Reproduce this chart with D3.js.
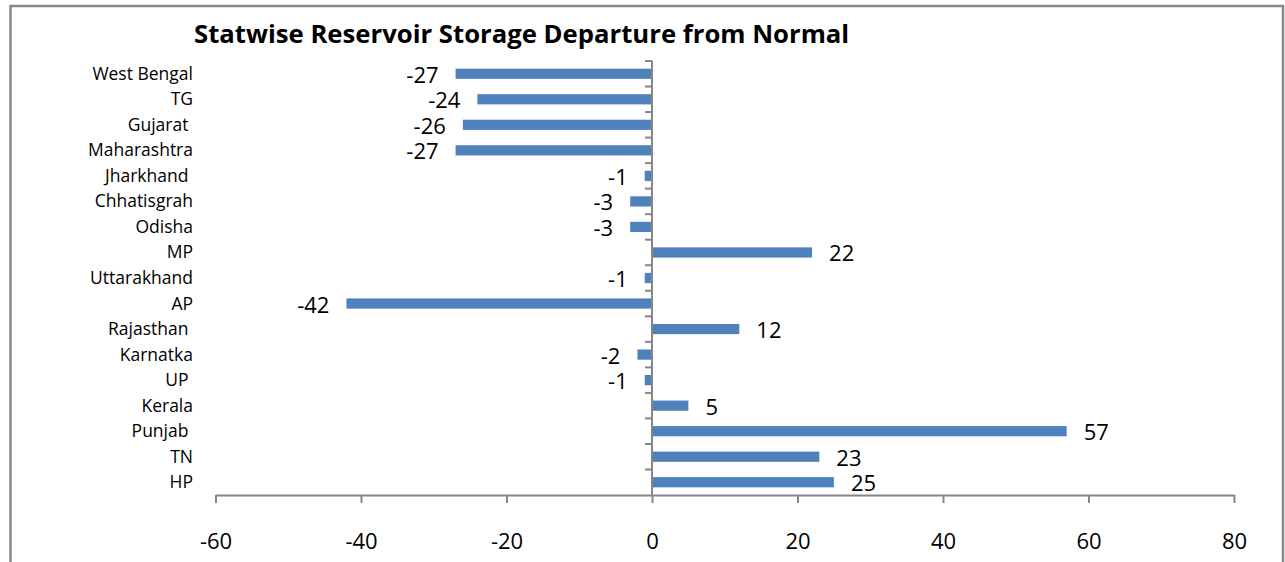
<!DOCTYPE html>
<html>
<head>
<meta charset="utf-8">
<script src="https://cdn.jsdelivr.net/npm/d3@7"></script>
<style>
  body { margin: 0; background: #fff; }
  text { font-family: "Open Sans", sans-serif; fill: #000; }
</style>
</head>
<body>
<div id="chart"></div>
<script>
// chart data
var states = ["West Bengal", "TG", "Gujarat ", "Maharashtra", "Jharkhand ", "Chhatisgrah", "Odisha",
  "MP", "Uttarakhand", "AP", "Rajasthan ", "Karnatka", "UP ", "Kerala", "Punjab ", "TN", "HP"];
var departure = [-27, -24, -26, -27, -1, -3, -3, 22, -1, -42, 12, -2, -1, 5, 57, 23, 25];
var xTicks = [-60, -40, -20, 0, 20, 40, 60, 80];

var title = "Statwise Reservoir Storage Departure from Normal";

var width = 1285, height = 562;

var svg = d3.select("#chart")
  .append("svg")
  .attr("width", width)
  .attr("height", height);

// outer frame (bottom edge runs off the picture)
svg.append("rect")
  .attr("x", 10.5)
  .attr("y", 6)
  .attr("width", 1272.5)
  .attr("height", 600)
  .attr("fill", "none")
  .attr("stroke", "#888")
  .attr("stroke-width", 2.5);

svg.append("text")
  .attr("x", 194)
  .attr("y", 43)
  .style("font-size", "25.7px")
  .style("font-weight", "bold")
  .text(title);

var x = d3.scaleLinear()
  .domain([-60, 80])
  .range([215.5, 1234]);

var y = d3.scaleBand()
  .domain(states)
  .range([61, 495])
  .paddingInner(0.6)
  .paddingOuter(0.3);

var rows = states.map(function(s, i) { return {state: s, value: departure[i]}; });

// bars
svg.selectAll("rect.bar")
  .data(rows)
  .join("rect")
  .attr("class", "bar")
  .attr("x", function(d) { return x(Math.min(0, d.value)); })
  .attr("y", function(d) { return y(d.state); })
  .attr("width", function(d) { return Math.abs(x(d.value) - x(0)); })
  .attr("height", y.bandwidth())
  .attr("fill", "#4F81BD");

// x axis
var xAxis = svg.append("g")
  .attr("transform", "translate(0,495)")
  .call(d3.axisBottom(x).tickValues(xTicks).tickSize(8).tickPadding(30).tickSizeOuter(0)
    .tickFormat(function(d) { return String(d); }));

// y axis at zero, ticks on band boundaries
var yAxis = svg.append("g")
  .attr("transform", "translate(" + x(0) + ",0)");
yAxis.append("line")
  .attr("y1", 61).attr("y2", 495);
yAxis.selectAll("line.tk")
  .data(d3.range(states.length))
  .join("line")
  .attr("class", "tk")
  .attr("x1", -7).attr("x2", 0)
  .attr("y1", function(i) { return 61 + i * (434 / states.length); })
  .attr("y2", function(i) { return 61 + i * (434 / states.length); });
yAxis.selectAll("line").attr("stroke", "#868686").attr("stroke-width", 2);

xAxis.select(".domain").attr("stroke", "#868686").attr("stroke-width", 2);
xAxis.selectAll(".tick line").attr("stroke", "#868686").attr("stroke-width", 2);
xAxis.selectAll(".tick text")
  .style("font-size", "22px")
  .style("font-family", "'Open Sans', sans-serif")
  .attr("fill", "#000");

// category labels
svg.selectAll("text.cat")
  .data(rows)
  .join("text")
  .attr("class", "cat")
  .attr("x", 193)
  .attr("y", function(d) { return y(d.state) + y.bandwidth() / 2 + 6; })
  .attr("text-anchor", "end")
  .style("font-size", "17.5px")
  .style("white-space", "pre")
  .text(function(d) { return d.state; });

// value labels
svg.selectAll("text.val")
  .data(rows)
  .join("text")
  .attr("class", "val")
  .attr("x", function(d) { return d.value < 0 ? x(d.value) - 17 : x(d.value) + 17; })
  .attr("y", function(d) { return y(d.state) + y.bandwidth() / 2 + 9; })
  .attr("text-anchor", function(d) { return d.value < 0 ? "end" : "start"; })
  .style("font-size", "22px")
  .text(function(d) { return d.value; });
</script>
</body>
</html>
